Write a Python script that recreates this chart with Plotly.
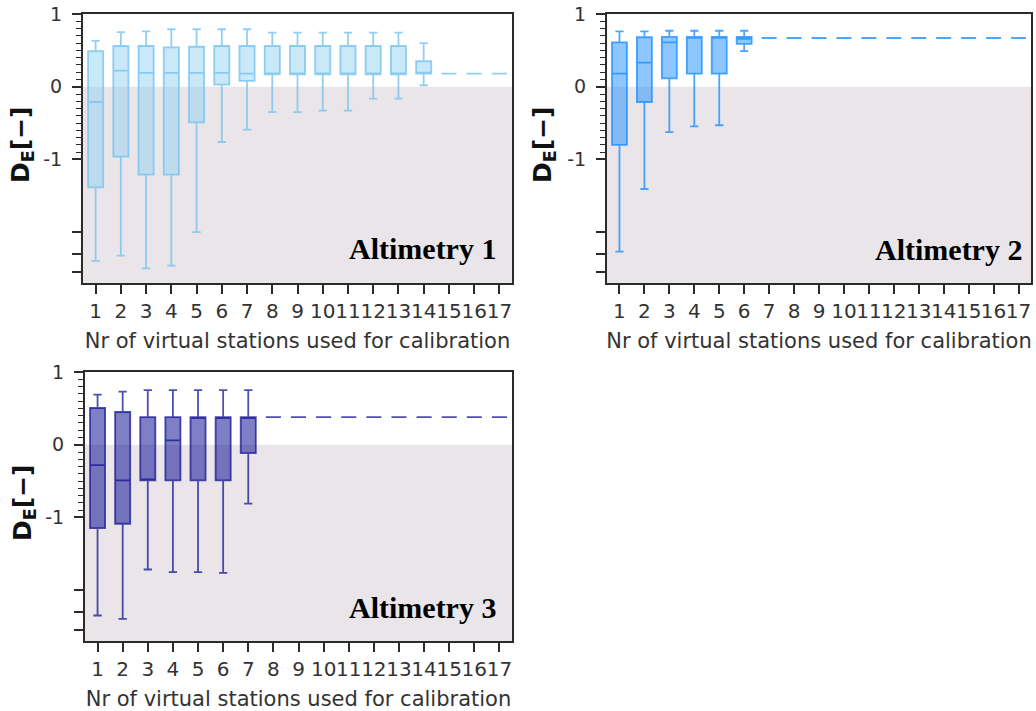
import numpy as np
import plotly.graph_objects as go

stations = list(range(1, 18))

# Altimetry 1
a1_upper = [0.63, 0.75, 0.76, 0.79, 0.79, 0.79, 0.79, 0.745, 0.745, 0.745, 0.745, 0.745, 0.745, 0.60, 0.18, 0.18, 0.18]
a1_q3 = [0.49, 0.56, 0.56, 0.54, 0.55, 0.56, 0.56, 0.56, 0.56, 0.56, 0.56, 0.56, 0.56, 0.35, 0.18, 0.18, 0.18]
a1_median = [-0.21, 0.22, 0.19, 0.19, 0.19, 0.19, 0.18, 0.18, 0.18, 0.18, 0.18, 0.18, 0.18, 0.18, 0.18, 0.18, 0.18]
a1_q1 = [-2.42, -0.96, -1.62, -1.62, -0.49, 0.03, 0.08, 0.17, 0.17, 0.17, 0.17, 0.17, 0.17, 0.18, 0.18, 0.18, 0.18]
a1_lower = [-24.8, -21.0, -31.4, -28.8, -10.0, -0.76, -0.59, -0.35, -0.35, -0.33, -0.33, -0.165, -0.165, 0.02, 0.18, 0.18, 0.18]

# Altimetry 2
a2_upper = [0.76, 0.76, 0.77, 0.77, 0.77, 0.77, 0.67, 0.67, 0.67, 0.67, 0.67, 0.67, 0.67, 0.67, 0.67, 0.67, 0.67]
a2_q3 = [0.61, 0.68, 0.685, 0.685, 0.685, 0.685, 0.67, 0.67, 0.67, 0.67, 0.67, 0.67, 0.67, 0.67, 0.67, 0.67, 0.67]
a2_median = [0.18, 0.33, 0.61, 0.685, 0.685, 0.66, 0.67, 0.67, 0.67, 0.67, 0.67, 0.67, 0.67, 0.67, 0.67, 0.67, 0.67]
a2_q1 = [-0.80, -0.21, 0.115, 0.18, 0.18, 0.59, 0.67, 0.67, 0.67, 0.67, 0.67, 0.67, 0.67, 0.67, 0.67, 0.67, 0.67]
a2_lower = [-18.5, -2.55, -0.625, -0.545, -0.53, 0.49, 0.67, 0.67, 0.67, 0.67, 0.67, 0.67, 0.67, 0.67, 0.67, 0.67, 0.67]

# Altimetry 3
a3_upper = [0.69, 0.73, 0.75, 0.75, 0.75, 0.75, 0.75, 0.38, 0.38, 0.38, 0.38, 0.38, 0.38, 0.38, 0.38, 0.38, 0.38]
a3_q3 = [0.505, 0.45, 0.38, 0.38, 0.38, 0.38, 0.38, 0.38, 0.38, 0.38, 0.38, 0.38, 0.38, 0.38, 0.38, 0.38, 0.38]
a3_median = [-0.28, -0.49, -0.49, 0.06, 0.38, 0.38, 0.38, 0.38, 0.38, 0.38, 0.38, 0.38, 0.38, 0.38, 0.38, 0.38, 0.38]
a3_q1 = [-1.40, -1.22, -0.49, -0.49, -0.49, -0.49, -0.115, 0.38, 0.38, 0.38, 0.38, 0.38, 0.38, 0.38, 0.38, 0.38, 0.38]
a3_lower = [-22.3, -24.8, -5.2, -5.65, -5.65, -5.8, -0.81, 0.38, 0.38, 0.38, 0.38, 0.38, 0.38, 0.38, 0.38, 0.38, 0.38]

panel_names = ["Altimetry 1", "Altimetry 2", "Altimetry 3"]
y_major_labels = ["1", "0", "-1", "", "", ""]
y_major_values = [1, 0, -1, -10, -20, -35]
y_bottom = -50
x_title = "Nr of virtual stations used for calibration"
y_title = "<b>D<sub>E</sub>[−]</b>"


def symlog(v):
    """Linear between -1 and 1, logarithmic (one unit per decade) below -1."""
    v = np.asarray(v, dtype=float)
    out = v.copy()
    neg = v < -1
    out[neg] = -(1 + np.log10(-v[neg]))
    return out


series = [
    (a1_lower, a1_q1, a1_median, a1_q3, a1_upper),
    (a2_lower, a2_q1, a2_median, a2_q3, a2_upper),
    (a3_lower, a3_q1, a3_median, a3_q3, a3_upper),
]
fills = ["rgba(135,206,240,0.45)", "rgba(30,144,255,0.5)", "rgba(0,0,139,0.5)"]
lines = ["rgba(120,195,240,0.8)", "rgba(30,144,255,0.8)", "rgba(20,20,150,0.75)"]

W, H = 1036, 711
# pixel boxes of the three plot areas (left, right, top, bottom)
boxes = [(83, 512, 14, 283), (607, 1031, 14, 283), (85, 512, 372, 641)]
label_pos = [(0.967, 0.13), (0.984, 0.123), (0.967, 0.126)]
ytitle_px = [(22, 145), (544, 145), (24, 503)]

fig = go.Figure()
ink = "#2b2b2b"
txt = "#333333"
minor_vals = [round(k / 10, 1) for k in range(-9, 10) if k != 0]
ybot = float(symlog([y_bottom])[0])

for i, ((lo, q1, med, q3, up), (l, r, t, b)) in enumerate(zip(series, boxes)):
    sfx = "" if i == 0 else str(i + 1)
    xa, ya = "x" + sfx, "y" + sfx
    fig.add_trace(go.Box(
        x=stations, q1=symlog(q1), median=symlog(med), q3=symlog(q3),
        lowerfence=symlog(lo), upperfence=symlog(up),
        xaxis=xa, yaxis=ya, fillcolor=fills[i],
        line=dict(color=lines[i], width=1.8),
        width=0.6, whiskerwidth=0.55, boxpoints=False,
        showlegend=False, hoverinfo="skip",
    ))
    xdom = [l / W, r / W]
    ydom = [1 - b / H, 1 - t / H]
    fig.layout["xaxis" + sfx] = dict(
        domain=xdom, anchor=ya, range=[0.5, 17.5], automargin=False,
        tickmode="array", tickvals=stations, ticktext=[str(s) for s in stations],
        tickangle=0, ticklabeloverflow="allow",
        ticks="outside", ticklen=9, tickwidth=1.5, tickcolor=ink,
        showline=True, mirror=True, linecolor=ink, linewidth=2,
        showgrid=False, zeroline=False,
        tickfont=dict(family="DejaVu Sans", size=20, color=txt),
        title=dict(text=x_title,
                   font=dict(family="DejaVu Sans", size=21, color=txt),
                   standoff=11),
    )
    fig.layout["yaxis" + sfx] = dict(
        domain=ydom, anchor=xa, range=[ybot, 1], automargin=False,
        tickmode="array", tickvals=list(symlog(y_major_values)), ticktext=y_major_labels,
        tickangle=0, ticklabeloverflow="allow",
        ticks="outside", ticklen=9, tickwidth=1.5, tickcolor=ink,
        minor=dict(tickmode="array", tickvals=minor_vals, ticks="outside",
                   ticklen=5, tickwidth=1.2, tickcolor=ink, showgrid=False),
        showline=True, mirror=True, linecolor=ink, linewidth=2,
        showgrid=False, zeroline=False,
        tickfont=dict(family="DejaVu Sans", size=19, color=txt),
        ticklabelstandoff=6,
    )
    fig.add_shape(type="rect", xref=xa + " domain", yref=ya,
                  x0=0, x1=1, y0=ybot, y1=0,
                  fillcolor="#e9e5e9", line=dict(width=0), layer="below")
    fig.add_annotation(text="<b>" + panel_names[i] + "</b>",
                       xref=xa + " domain", yref=ya + " domain",
                       x=label_pos[i][0], y=label_pos[i][1],
                       xanchor="right", yanchor="middle", showarrow=False,
                       font=dict(family="Liberation Serif", size=30, color="#000000"))
    tx, ty = ytitle_px[i]
    fig.add_annotation(text=y_title, xref="paper", yref="paper",
                       x=tx / W, y=1 - ty / H, xanchor="center", yanchor="middle",
                       textangle=-90, showarrow=False,
                       font=dict(family="DejaVu Sans", size=25, color="#111111"))

fig.update_layout(
    width=W, height=H, margin=dict(l=0, r=0, t=0, b=0, autoexpand=False),
    paper_bgcolor="white", plot_bgcolor="white",
)

fig.write_html(
    "out.html",
    config={"displayModeBar": False},
    post_script="document.body.style.margin='0';document.body.style.overflow='hidden';",
)
